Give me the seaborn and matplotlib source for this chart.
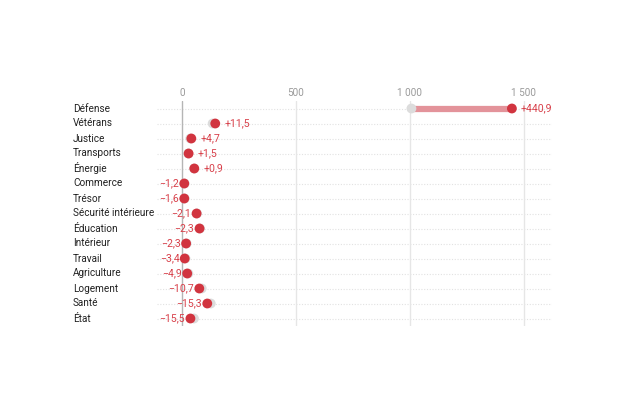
import matplotlib
matplotlib.use("Agg")
import matplotlib.pyplot as plt
import matplotlib.transforms as mtransforms
import seaborn as sns
import pandas as pd

categories = ["Défense", "Vétérans", "Justice", "Transports", "Énergie", "Commerce",
              "Trésor", "Sécurité intérieure", "Éducation", "Intérieur", "Travail",
              "Agriculture", "Logement", "Santé", "État"]
end_values = [1448, 146, 41, 29, 54, 10, 10, 64, 77, 18, 12, 23, 76, 111, 37]
changes = [440.9, 11.5, 4.7, 1.5, 0.9, -1.2, -1.6, -2.1, -2.3, -2.3, -3.4, -4.9,
           -10.7, -15.3, -15.5]
start_values = [1007, 134.5, 36.3, 27.5, 53.1, 11.2, 11.6, 66.1, 79.3, 20.3, 15.4,
                27.9, 86.7, 126.3, 52.5]
tick_values = [0, 500, 1000, 1500]
tick_labels = ["0", "500", "1 000", "1 500"]

df = pd.DataFrame({"cat": categories, "start": start_values, "end": end_values,
                   "change": changes})
df["pos"] = range(len(df))

sns.set_theme(style="white")
plt.rcParams["font.family"] = ["Roboto", "DejaVu Sans"]

RED = "#d1343f"
LABEL_RED = "#d8404a"
LINE_RED = "#e3939a"
GREY_DOT = "#dcdcdc"

fig = plt.figure(figsize=(6.24, 4.16), dpi=100)
ax = fig.add_axes([157 / 624, 1 - 326 / 416, (552 - 157) / 624, (326 - 101) / 416])

# horizontal dotted row lines
for p in df["pos"]:
    ax.axhline(p, color="#e2e2e2", lw=0.8, ls=(0, (1, 1.5)), zorder=0)
# vertical gridlines
for t in tick_values:
    ax.axvline(t, color="#b5b5b5" if t == 0 else "#e6e6e6", lw=1, zorder=0.5)

# connecting lines
ax.hlines(df["pos"], df["start"], df["end"], color=LINE_RED, lw=4.5, zorder=1)

sns.scatterplot(data=df, x="start", y="pos", color=GREY_DOT, s=50, edgecolor="none",
                ax=ax, zorder=2)
sns.scatterplot(data=df, x="end", y="pos", color=RED, s=50, edgecolor="none",
                ax=ax, zorder=3)

for _, r in df.iterrows():
    txt = ("+" if r["change"] > 0 else "\u2212") + f"{abs(r['change']):.1f}".replace(".", ",")
    if r["change"] > 0:
        ax.annotate(txt, (max(r["start"], r["end"]), r["pos"]), xytext=(6.5, 0),
                    textcoords="offset points", ha="left", va="center",
                    color=LABEL_RED, fontsize=7.6, zorder=4)
    else:
        ax.annotate(txt, (min(r["start"], r["end"]), r["pos"]), xytext=(-3.8, 0),
                    textcoords="offset points", ha="right", va="center",
                    color=LABEL_RED, fontsize=7.6, zorder=4)

trans = mtransforms.blended_transform_factory(fig.transFigure, ax.transData)
for _, r in df.iterrows():
    ax.text(73 / 624, r["pos"], r["cat"], transform=trans, ha="left", va="center",
            fontsize=7.2, color="#222222")

ax.set_xlim(-109.7, 1624)
ax.set_ylim(14.5, -0.5)
ax.xaxis.tick_top()
ax.set_xticks(tick_values)
ax.set_xticklabels(tick_labels, color="#9a9a9a", fontsize=7.2)
ax.tick_params(axis="x", length=0, pad=2)
ax.set_yticks([])
ax.set_xlabel("")
ax.set_ylabel("")
for s in ax.spines.values():
    s.set_visible(False)

fig.savefig("out.png", dpi=100)
